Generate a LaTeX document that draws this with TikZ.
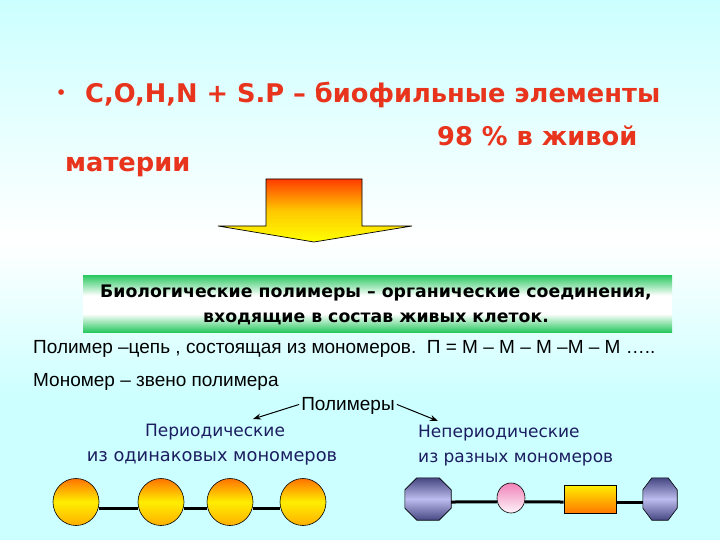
\documentclass[tikz,border=0pt]{standalone}
\usepackage{fontspec}
\setmainfont{DejaVu Sans}
\newfontfamily\comicf{DejaVu Sans}
\newfontfamily\arialf{Liberation Sans}
\usetikzlibrary{shapes.geometric,arrows.meta}
\definecolor{bgcyan}{RGB}{204,255,255}
\definecolor{hdrred}{RGB}{232,52,28}
\definecolor{navytxt}{RGB}{28,28,96}
\definecolor{bgreen}{RGB}{40,200,95}
\definecolor{arrtop}{RGB}{255,60,0}
\definecolor{arrmid}{RGB}{255,200,0}
\definecolor{arrbot}{RGB}{255,255,0}
\definecolor{orgtop}{RGB}{255,115,0}
\definecolor{orgmid}{RGB}{255,238,0}
\definecolor{orgbot}{RGB}{255,175,0}
\definecolor{octdark}{RGB}{70,70,130}
\definecolor{octlight}{RGB}{188,188,238}
\definecolor{pinktop}{RGB}{240,130,185}
\definecolor{pinkbot}{RGB}{255,245,250}
\definecolor{rectop}{RGB}{255,240,0}
\definecolor{recbot}{RGB}{255,120,0}
\pgfdeclareverticalshading{bannershade}{100bp}{color(0bp)=(bgreen); color(25bp)=(bgreen); color(41bp)=(white); color(57bp)=(white); color(75bp)=(bgreen); color(100bp)=(bgreen)}
\tikzset{
  hdr/.style={anchor=base west, inner sep=0pt, text=hdrred, font={\comicf\bfseries\fontsize{25.7}{30}\selectfont}},
  bantxt/.style={anchor=base, inner sep=0pt, text=black, font={\comicf\bfseries\fontsize{17.3}{20}\selectfont}},
  arialtxt/.style={anchor=base west, inner sep=0pt, text=black, font={\arialf\fontsize{19}{22}\selectfont}},
  navylbl/.style={anchor=base, inner sep=0pt, text=navytxt, font={\comicf\fontsize{17}{20}\selectfont}},
  monoball/.style={ellipse, draw=black, line width=0.6pt, minimum width=46pt, minimum height=47pt, inner sep=0pt,
    top color=orgtop, bottom color=orgbot, middle color=orgmid},
  chainline/.style={line width=3pt, black},
  polyarrow/.style={-{Stealth[length=8pt,width=6pt]}, line width=1pt, black},
  ghost/.style={rectangle, draw=none, inner sep=0pt},
}
\begin{document}
\begin{tikzpicture}[x=1pt,y=-1pt]
\useasboundingbox (0,0) rectangle (720,540);
% background
\fill[top color=bgcyan, bottom color=white] (0,0) rectangle (720,240);
\fill[top color=white, bottom color=bgcyan] (0,240) rectangle (720,400);
\fill[bgcyan] (0,399.5) rectangle (720,540);
% header
\node[hdr, font={\comicf\bfseries\fontsize{16}{20}\selectfont}] (bul) at (56,99) {•};
\node[hdr] (l1) at (85,103) {C,O,H,N + S.P – биофильные элементы};
\node[hdr] (l2) at (437,146) {98 \% в живой};
\node[hdr] (l3) at (65,172) {материи};
% block arrow
\draw[line width=0.7pt, top color=arrtop, bottom color=arrbot, middle color=arrmid]
  (266,179) -- (362,179) -- (362,226) -- (412,226) -- (314,242) -- (218,226) -- (266,226) -- cycle;
% banner
\shade[shading=bannershade] (83,275) rectangle (672,332);
\node[bantxt] (b1) at (376,297) {Биологические полимеры – органические соединения,};
\node[bantxt] (b2) at (376,322) {входящие в состав живых клеток.};
% text lines
\node[arialtxt] (poly) at (33,353) {Полимер –цепь , состоящая из мономеров.\ \ П = М – М – М –М – М …..};
\node[arialtxt] (mono) at (33,386) {Мономер – звено полимера};
\node[arialtxt, anchor=base] (pols) at (348,410) {Полимеры};
\coordinate (la) at (253,419);
\coordinate (ra) at (438,421);
\draw[polyarrow] ([xshift=-2pt,yshift=1pt]pols.west) -- (la);
\draw[polyarrow] ([xshift=2pt,yshift=1pt]pols.east) -- (ra);
% labels
\node[navylbl] (per1) at (215,436) {Периодические};
\node[navylbl, font={\comicf\fontsize{17.8}{20}\selectfont}] (per2) at (212,461) {из одинаковых мономеров};
\node[navylbl, anchor=base west] (np1) at (418,437) {Непериодические};
\node[navylbl, anchor=base west] (np2) at (418,462) {из разных мономеров};
% periodic chain
\node[monoball] (m1) at (76,502) {};
\node[monoball] (m2) at (161,502) {};
\node[monoball] (m3) at (230,502) {};
\node[monoball] (m4) at (303,502) {};
\draw[chainline] (m1.-15) -- (m2.195);
\draw[chainline] (m2.-15) -- (m3.195);
\draw[chainline] (m3.-15) -- (m4.195);
% non-periodic chain
\node[ghost, minimum width=46pt, minimum height=42pt] (o1) at (428,499) {};
\node[ghost, minimum width=34pt, minimum height=42pt] (o2) at (660,499) {};
\node[ellipse, draw=black, line width=0.6pt, minimum width=28pt, minimum height=30pt, inner sep=0pt,
  top color=pinktop, bottom color=pinkbot] (pk) at (511,498) {};
\node[rectangle, draw=black, line width=0.6pt, minimum width=52pt, minimum height=28pt, inner sep=0pt,
  top color=rectop, bottom color=recbot] (rc) at (590,499) {};
\draw[line width=0.6pt, top color=octdark, bottom color=octdark, middle color=octlight]
  ([xshift=12pt]o1.north west) -- ([xshift=-12pt]o1.north east) -- ([yshift=-12pt]o1.north east)
  -- ([yshift=12pt]o1.south east) -- ([xshift=-12pt]o1.south east) -- ([xshift=12pt]o1.south west)
  -- ([yshift=12pt]o1.south west) -- ([yshift=-12pt]o1.north west) -- cycle;
\draw[line width=0.6pt, top color=octdark, bottom color=octdark, middle color=octlight]
  ([xshift=9pt]o2.north west) -- ([xshift=-9pt]o2.north east) -- ([yshift=-12pt]o2.north east)
  -- ([yshift=12pt]o2.south east) -- ([xshift=-9pt]o2.south east) -- ([xshift=9pt]o2.south west)
  -- ([yshift=12pt]o2.south west) -- ([yshift=-12pt]o2.north west) -- cycle;
\draw[chainline] ([yshift=-3pt]o1.east) -- (pk.196);
\draw[chainline] (pk.-16) -- ([yshift=-3pt]rc.west);
\draw[chainline] ([yshift=-3pt]rc.east) -- ([yshift=-3pt]o2.west);
\end{tikzpicture}
\end{document}
